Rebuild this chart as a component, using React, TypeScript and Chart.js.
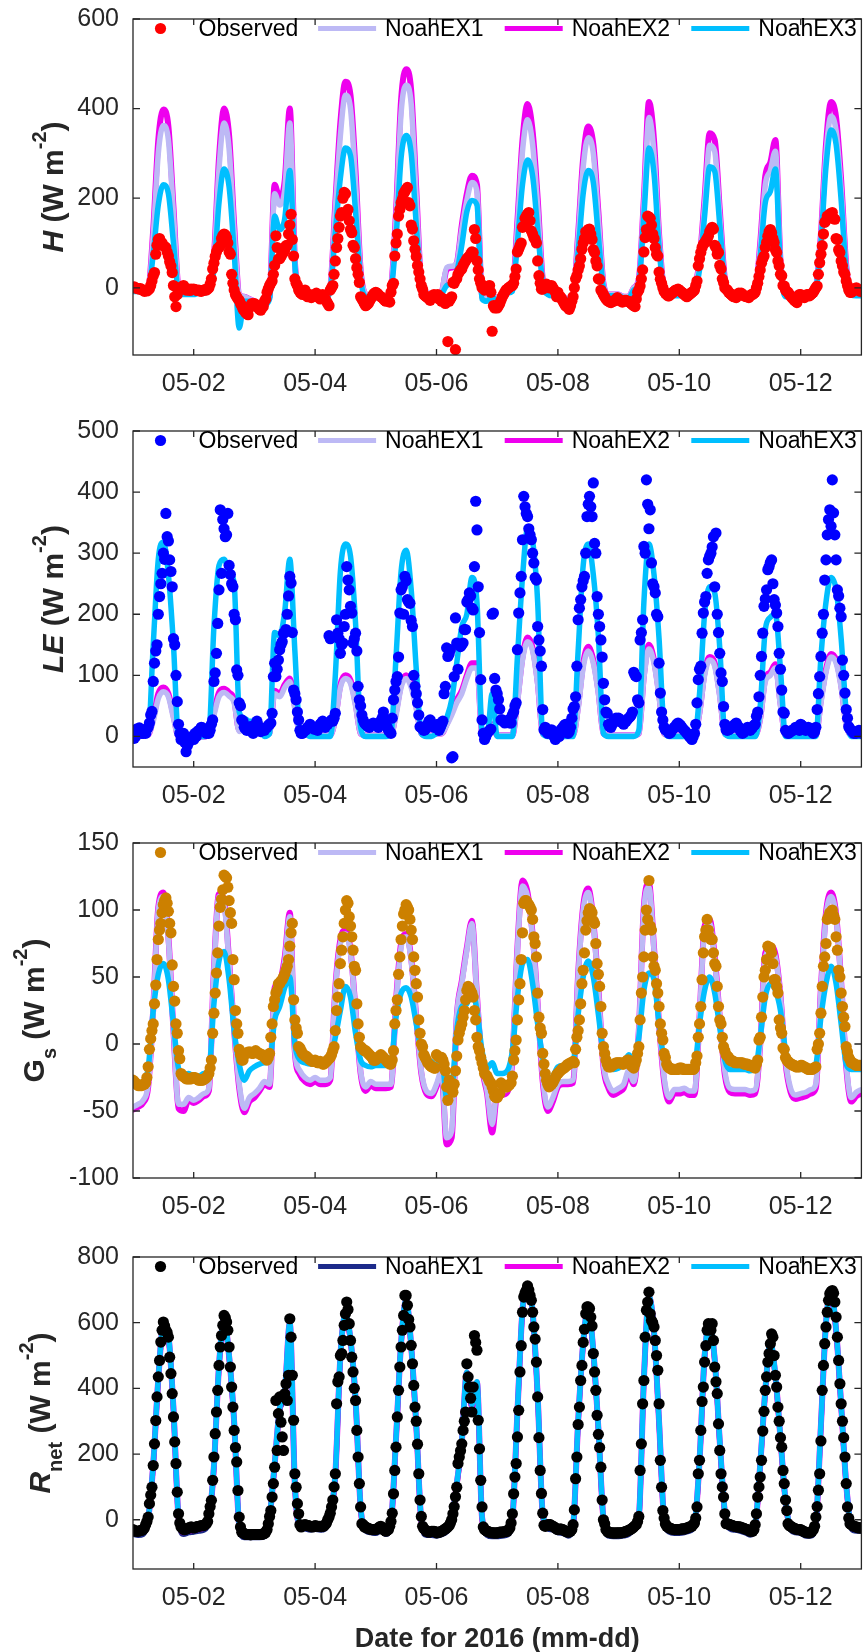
import React, { useEffect, useRef } from 'react';
import { Chart, registerables } from 'chart.js';
Chart.register(...registerables);

const FONT = '"Liberation Sans", Arial, Helvetica, sans-serif';

// ---------- axes / labels ----------
const X_TICKS = [1, 3, 5, 7, 9, 11];
const X_TICK_LABELS = ['05-02', '05-04', '05-06', '05-08', '05-10', '05-12'];
const SERIES_NAMES = ['Observed', 'NoahEX1', 'NoahEX2', 'NoahEX3'];
const X_TITLE = 'Date for 2016 (mm-dd)';
const H_TICKS = [0, 200, 400, 600];
const LE_TICKS = [0, 100, 200, 300, 400, 500];
const GS_TICKS = [-100, -50, 0, 50, 100, 150];
const RN_TICKS = [0, 200, 400, 600, 800];

// ---------- data: observed every 30 min from 05-01 00:00, models every 2 h ----------
const H_OBS = [
  0,2,0,-1,-2,-3,-2,-4,-5,-8,-6,-7,-5,-2,5,15,27,34,75,95,108,110,103,100,94,92,90,80,71,58,49,34,5,-20,-42,-15,-5,0,-2,3,5,-2,-5,-4,-3,-6,-3,-4,
  -3,-4,-5,-6,-5,-7,-8,-6,-5,-4,-5,-3,0,8,20,42,55,70,80,88,90,94,110,116,120,118,112,100,80,75,30,10,-5,-15,-20,-25,-28,-35,-40,-48,-50,-55,-58,-60,-45,-40,-35,-38,
  -35,-38,-40,-45,-48,-50,-45,-42,-30,-25,-10,-2,5,10,15,30,50,116,90,64,65,70,75,79,85,94,95,120,140,164,108,71,20,10,5,-5,-10,-12,-15,-10,-5,-15,-20,-18,-15,-22,-20,-18,
  -15,-12,-20,-22,-25,-18,-15,-20,-25,-30,-35,-40,-5,0,5,30,60,90,110,135,160,168,200,213,210,168,175,150,130,123,95,90,65,45,30,12,-20,-25,-30,-35,-40,-38,-35,-30,-25,-20,-15,-12,
  -10,-12,-15,-18,-20,-22,-25,-28,-30,-25,-30,-32,-10,5,10,71,100,120,160,175,190,198,210,215,220,224,190,183,140,131,105,86,70,50,35,20,5,-3,-15,-18,-20,-22,-25,-28,-20,-18,-15,-20,
  -20,-15,-25,-20,-30,-25,-25,-35,-30,-120,-30,-25,-20,12,10,-138,20,30,35,40,42,50,55,60,65,68,70,75,80,79,130,110,60,40,20,10,0,4,-5,0,-2,4,5,-10,-97,-40,-45,-40,
  -45,-40,-35,-28,-20,-15,-10,-5,-3,0,2,4,5,10,25,42,80,86,94,100,135,138,155,160,165,168,150,127,120,112,108,100,60,27,10,-3,-3,5,0,8,5,0,2,5,0,-5,-10,-20,
  -10,-18,-20,-25,-30,-35,-40,-42,-45,-48,-40,-30,-20,0,20,27,40,49,65,86,100,110,125,123,130,131,120,108,85,79,60,49,20,19,-5,-10,-15,-20,-25,-28,-30,-32,-33,-30,-30,-28,-25,-22,
  -25,-28,-30,-32,-30,-28,-28,-30,-30,-33,-35,-38,-40,-42,-25,-10,-5,4,20,40,80,112,130,160,158,155,140,120,110,90,75,71,35,19,10,0,-8,-12,-15,-18,-18,-15,-12,-10,-8,-5,-5,-3,
  -5,-8,-10,-12,-15,-18,-20,-17,-15,-12,-10,-8,-5,5,15,49,65,79,90,97,100,105,110,115,125,131,135,131,95,90,75,79,50,42,20,12,0,-3,-5,-10,-12,-15,-18,-20,-20,-22,-15,-12,
  -15,-12,-15,-18,-18,-20,-20,-22,-18,-15,-15,-12,-10,0,10,25,40,55,65,71,90,101,115,125,130,123,110,101,85,79,60,49,30,27,5,4,-5,-8,-10,-15,-18,-22,-25,-28,-30,-33,-20,-15,
  -15,-18,-20,-22,-18,-15,-15,-18,-15,-12,-10,-5,0,4,30,56,75,94,120,146,150,160,160,165,165,168,155,153,110,108,85,79,60,49,35,30,15,5,-5,-10,-10,-8,-5,-2,0,-4,-5,-8,
  -5,
];
const H_EX1 = [
  -5,-5,-8,-3,115,300,362,330,165,0,-10,-10,
  -10,-8,-8,0,60,265,368,310,125,-15,-20,-25,
  -30,-35,-35,-20,210,185,220,368,55,-10,-15,-15,
  -15,-20,-20,0,175,340,430,400,235,35,-15,-20,
  -20,-20,-20,0,155,390,452,410,200,8,-10,-15,
  -15,-10,45,48,55,130,195,235,215,-20,-25,-15,
  -25,-15,-10,-5,135,305,375,320,180,15,-10,-15,
  -15,-20,-25,-20,110,270,335,300,155,8,-15,-15,
  -15,-20,-20,0,18,185,380,300,110,-5,-15,-15,
  -15,-15,-15,0,55,185,318,305,160,15,-10,-15,
  -15,-15,-15,-10,90,230,262,305,55,-15,-15,-15,
  -15,-15,-15,0,110,300,383,350,220,45,-10,-15,
  -15,
];
const H_EX2 = [
  -5,-5,-8,-3,130,330,398,360,180,0,-10,-10,
  -10,-8,-8,0,70,290,400,340,140,-15,-20,-25,
  -30,-35,-35,-20,230,200,240,400,60,-10,-15,-15,
  -15,-20,-20,0,190,370,460,430,260,40,-15,-20,
  -20,-20,-20,0,170,420,488,440,220,10,-10,-15,
  -15,-10,40,45,55,140,210,250,230,-20,-25,-15,
  -25,-15,-10,-5,150,330,410,350,200,20,-10,-15,
  -15,-20,-25,-20,120,290,360,320,170,10,-15,-15,
  -15,-20,-20,0,20,200,415,330,120,-5,-15,-15,
  -15,-15,-15,0,60,200,345,330,175,20,-10,-15,
  -15,-15,-15,-10,100,250,280,330,60,-15,-15,-15,
  -15,-15,-15,0,120,320,415,380,240,50,-10,-15,
  -15,
];
const H_EX3 = [
  -8,-8,-10,-5,75,185,230,210,100,-10,-15,-15,
  -15,-12,-12,-5,40,190,265,225,80,-90,-30,-30,
  -35,-38,-38,-25,160,130,155,262,50,-15,-20,-20,
  -20,-22,-22,-5,125,245,312,295,170,20,-20,-22,
  -22,-22,-22,-5,110,290,340,300,140,5,-15,-18,
  -20,-15,5,10,35,95,170,195,185,-25,-30,-20,
  -30,-20,-12,-8,100,230,285,250,130,10,-15,-18,
  -18,-22,-28,-22,80,210,262,235,115,0,-18,-18,
  -18,-22,-22,-5,10,160,312,255,90,-10,-18,-18,
  -18,-18,-18,-5,40,160,270,260,140,10,-15,-18,
  -18,-18,-18,-12,70,190,215,265,45,-20,-18,-18,
  -18,-18,-18,-5,100,270,352,320,195,35,-15,-18,
  -18,
];

const LE_OBS = [
  10,-3,0,12,8,14,12,5,5,8,5,12,15,22,35,41,90,120,140,150,200,229,250,267,300,290,365,327,320,289,270,245,160,150,100,57,20,5,-5,0,5,-10,-25,-15,-10,-5,-5,0,
  -5,5,0,8,10,11,15,14,12,10,5,8,5,10,20,27,90,104,136,185,240,371,267,355,340,327,330,365,280,265,250,245,200,191,109,100,55,50,27,25,15,12,10,11,15,16,10,5,
  15,20,25,18,12,8,10,12,10,14,15,18,20,22,38,98,120,98,110,125,142,150,155,169,170,175,200,230,262,251,170,76,70,60,40,27,10,5,5,8,10,11,15,14,20,16,15,12,
  15,12,10,15,20,22,25,18,15,20,20,165,160,27,25,30,38,191,169,160,136,150,153,180,200,278,256,240,213,202,153,160,169,140,82,60,50,35,27,22,20,18,16,15,18,20,22,20,
  20,18,15,22,25,30,40,28,20,15,10,8,5,30,60,76,90,98,130,202,240,245,200,262,255,224,220,218,190,180,100,82,70,55,35,16,15,12,10,11,15,20,25,27,20,18,15,18,
  15,20,10,15,20,25,70,82,145,131,135,142,-35,-33,98,194,153,110,150,147,150,153,175,175,220,224,235,230,210,207,278,385,338,245,170,93,27,5,-5,0,5,8,10,12,200,202,95,76,
  70,60,45,27,27,25,22,24,25,27,22,22,35,40,50,55,142,202,235,262,322,393,376,365,360,340,330,322,300,284,260,256,180,158,140,115,44,11,15,8,5,8,10,11,5,0,-5,5,
  5,0,10,12,15,18,20,10,5,8,15,30,45,49,65,115,191,210,224,245,255,262,300,360,380,393,376,360,415,316,300,229,200,180,158,130,87,60,40,38,20,16,15,20,25,27,30,25,
  30,28,25,22,20,24,25,28,30,32,35,40,105,100,98,60,55,158,170,191,311,300,420,380,340,371,284,250,245,235,200,196,120,71,40,27,15,11,10,8,5,6,10,12,15,16,20,22,
  20,18,15,12,10,8,5,3,0,-2,-5,0,5,20,55,93,110,115,169,202,220,229,267,289,295,300,310,327,245,333,200,170,136,104,90,49,20,11,10,11,12,14,15,18,20,22,18,15,
  10,8,5,7,10,12,15,12,10,12,15,18,20,33,40,65,100,131,169,213,225,240,273,278,285,289,250,224,215,202,180,136,110,76,40,38,10,8,5,6,8,10,10,12,15,14,12,10,
  20,18,15,12,10,12,15,12,10,8,5,8,15,44,70,98,131,169,200,256,289,330,355,371,344,420,366,330,289,240,230,210,196,125,100,71,44,30,16,12,10,8,5,6,5,8,10,8,
  5,
];
const LE_EX1 = [
  3,3,2,3,25,62,73,65,30,0,0,0,
  0,0,0,3,35,65,72,66,55,8,12,12,
  12,8,3,5,70,65,80,90,45,5,3,2,
  2,2,2,2,28,80,95,87,50,5,2,2,
  2,2,2,3,35,80,95,80,45,5,2,2,
  5,5,18,35,55,70,95,112,112,5,0,18,
  2,2,2,2,55,125,155,140,85,5,2,2,
  2,2,2,2,45,113,140,120,70,5,2,2,
  2,2,2,2,5,95,143,120,65,5,2,2,
  2,2,2,2,38,100,125,115,65,5,2,2,
  2,2,2,2,28,90,100,112,50,2,2,2,
  2,2,2,2,55,105,130,120,80,18,2,2,
  2,
];
const LE_EX2 = [
  3,3,2,3,30,70,80,70,35,0,0,0,
  0,0,0,3,40,72,78,72,60,10,15,15,
  15,10,3,5,75,70,85,95,50,5,3,2,
  2,2,2,2,30,85,100,92,55,5,2,2,
  2,2,2,3,40,85,100,85,50,5,2,2,
  5,5,20,40,60,75,100,120,120,5,0,20,
  2,2,2,2,60,130,162,145,90,5,2,2,
  2,2,2,2,50,120,147,125,75,5,2,2,
  2,2,2,2,5,100,150,125,70,5,2,2,
  2,2,2,2,40,105,130,120,70,5,2,2,
  2,2,2,2,30,95,105,118,55,2,2,2,
  2,2,2,2,60,110,135,125,85,20,2,2,
  2,
];
const LE_EX3 = [
  5,5,3,5,150,290,318,265,150,0,0,0,
  0,0,0,5,180,280,290,270,250,40,30,25,
  25,15,0,5,170,165,205,290,140,10,5,0,
  0,0,0,0,100,270,315,295,185,15,0,0,
  0,0,0,5,130,270,305,240,110,5,0,0,
  5,10,30,60,120,180,200,260,220,10,0,70,
  0,0,0,0,130,260,340,320,220,5,0,0,
  0,0,0,0,140,280,315,265,165,5,0,0,
  0,0,0,0,10,220,315,265,160,15,0,0,
  0,0,0,0,70,200,245,235,145,5,0,0,
  0,0,0,0,50,175,195,200,110,0,0,0,
  0,0,0,0,130,220,260,240,160,40,0,0,
  0,
];

const GS_OBS = [
  -27,-28,-29,-30,-31,-31,-31,-31,-30,-30,-29,-25,-17,-4,4,10,15,30,44,63,78,85,90,98,104,107,109,105,99,90,83,59,43,32,15,8,-5,-11,-22,-24,-24,-25,-26,-26,-26,-26,-26,-25,
  -25,-25,-26,-26,-27,-27,-27,-27,-26,-26,-25,-24,-22,-18,-12,8,23,38,53,68,88,102,108,115,126,125,124,117,107,98,90,63,48,25,15,8,-4,-8,-12,-12,-8,-7,-7,-6,-6,-6,-7,-7,
  -6,-5,-6,-7,-7,-8,-8,-9,-10,-11,-12,-10,-7,5,15,28,33,38,40,45,45,47,48,50,52,55,58,63,73,83,90,33,18,12,8,-2,-3,-5,-7,-8,-9,-9,-10,-11,-12,-12,-13,-13,
  -12,-13,-14,-14,-13,-14,-15,-15,-14,-13,-12,-11,-10,-8,-5,-2,10,25,35,45,60,70,80,90,100,107,105,95,88,80,70,58,55,30,15,5,-2,-3,-4,-5,-5,-6,-7,-8,-9,-10,-12,-12,
  -12,-11,-10,-9,-8,-9,-10,-11,-12,-13,-14,-15,-15,-12,-5,15,25,33,52,65,78,88,97,100,104,102,100,93,85,78,65,55,45,35,18,8,0,-2,-8,-10,-12,-14,-15,-16,-17,-17,-18,-18,
  -8,-9,-10,-10,-10,-12,-15,-20,-32,-42,-27,-30,-34,-36,-30,-20,-9,3,8,12,15,20,25,33,40,43,42,40,38,35,25,18,5,-2,-5,-10,-14,-18,-22,-23,-24,-26,-28,-29,-32,-35,-39,-40,
  -40,-38,-37,-29,-30,-31,-32,-32,-32,-31,-30,-29,-24,-12,-5,3,18,33,45,63,83,105,107,107,105,104,102,100,93,80,75,65,38,20,12,8,-7,-15,-22,-27,-30,-32,-31,-30,-29,-27,-25,-23,
  -22,-21,-20,-19,-18,-18,-17,-16,-15,-15,-14,-14,-13,-14,-4,5,10,18,30,45,55,68,85,92,98,101,100,98,92,90,75,60,52,43,28,8,-2,-7,-12,-15,-17,-17,-17,-16,-15,-15,-14,-14,
  -14,-14,-14,-15,-15,-14,-13,-12,-12,-14,-16,-17,-18,-15,-12,-7,-2,18,38,50,65,85,100,93,122,88,85,65,58,55,45,38,28,15,8,3,-7,-10,-15,-17,-18,-18,-19,-19,-19,-19,-19,-19,
  -18,-18,-18,-19,-19,-19,-19,-19,-19,-19,-19,-19,-18,-14,-9,5,15,28,48,68,80,85,93,85,80,78,78,68,60,58,43,28,18,15,5,-2,-5,-8,-9,-10,-12,-12,-13,-13,-14,-14,-14,-14,
  -14,-14,-14,-15,-15,-15,-15,-16,-16,-16,-17,-17,-18,-15,-12,3,5,20,35,50,55,63,73,72,72,68,60,48,48,43,38,18,12,8,-3,-4,-10,-12,-13,-14,-15,-15,-16,-16,-17,-17,-17,-17,
  -16,-16,-17,-17,-18,-18,-19,-19,-19,-19,-18,-18,-17,-4,0,8,23,43,58,65,75,93,95,98,98,100,96,93,80,70,55,50,38,28,20,13,-2,-6,-10,-12,-14,-14,-15,-15,-16,-16,-16,-16,
  -16,
];
const GS_EX1 = [
  -47,-45,-42,-30,25,100,110,78,10,-45,-45,-40,
  -42,-40,-37,-33,55,110,105,60,10,-30,-48,-40,
  -37,-33,-28,-30,40,45,62,95,-5,-20,-25,-27,
  -25,-27,-27,-25,40,75,82,68,25,-20,-32,-28,
  -30,-30,-30,-30,30,72,80,62,20,-20,-35,-37,
  -30,-20,-70,-65,20,45,70,90,35,-15,-35,-60,
  -35,-35,-33,-10,70,118,110,80,30,-25,-47,-40,
  -30,-28,-28,-27,50,100,113,90,40,-15,-30,-35,
  -33,-30,-20,-28,10,100,117,70,15,-25,-40,-34,
  -34,-33,-35,-35,20,85,90,62,20,-20,-33,-34,
  -34,-34,-35,-34,0,65,70,65,35,-12,-33,-38,
  -37,-36,-34,-30,40,95,110,95,45,-15,-40,-36,
  -34,
];
const GS_EX2 = [
  -49,-47,-44,-32,26,102,113,80,10,-48,-50,-42,
  -44,-42,-39,-35,56,112,108,62,10,-33,-51,-43,
  -40,-35,-30,-32,42,47,65,98,-6,-23,-28,-30,
  -28,-30,-30,-27,42,78,85,70,25,-22,-35,-31,
  -33,-33,-33,-32,32,75,82,64,20,-22,-37,-39,
  -32,-22,-75,-70,20,47,72,92,36,-17,-37,-66,
  -38,-38,-36,-12,72,122,113,82,30,-28,-50,-43,
  -32,-30,-30,-29,52,103,116,92,42,-17,-33,-38,
  -36,-33,-22,-30,10,103,120,72,15,-28,-43,-37,
  -37,-36,-38,-38,20,88,93,65,20,-23,-36,-37,
  -37,-37,-38,-37,0,68,73,67,36,-14,-36,-41,
  -40,-39,-37,-33,42,98,113,97,46,-17,-43,-39,
  -37,
];
const GS_EX3 = [
  -30,-30,-28,-18,25,52,60,48,15,-18,-23,-22,
  -24,-24,-22,-20,30,62,69,48,10,-15,-27,-20,
  -17,-15,-14,-13,18,28,42,50,0,-12,-14,-15,
  -14,-15,-15,-12,5,25,43,35,8,-12,-16,-17,
  -16,-16,-16,-14,20,38,42,35,15,-5,-12,-13,
  -17,-8,-40,-35,10,28,30,40,25,-5,-18,-14,
  -22,-22,-20,-5,35,60,63,45,15,-10,-27,-24,
  -17,-16,-16,-14,22,50,62,50,22,-8,-18,-19,
  -18,-15,-8,-12,5,40,53,48,15,-12,-18,-19,
  -19,-19,-20,-18,15,40,50,38,12,-12,-19,-19,
  -19,-19,-20,-19,5,35,45,40,25,-5,-15,-17,
  -19,-18,-18,-15,20,45,58,45,15,-15,-19,-19,
  -19,
];

const RN_OBS = [
  -30,-32,-35,-35,-35,-34,-33,-32,-30,-25,-15,-5,8,49,75,99,165,231,302,374,435,485,541,577,602,590,577,570,556,495,445,384,313,237,171,84,18,-10,-22,-25,-30,-30,-28,-27,-25,-24,-22,-24,
  -25,-24,-22,-21,-20,-19,-18,-18,-18,-15,-12,-5,18,40,59,120,191,262,328,394,470,526,561,592,622,615,602,577,526,465,404,343,272,220,176,89,8,-22,-38,-40,-42,-44,-45,-45,-45,-46,-45,-45,
  -45,-45,-45,-45,-45,-45,-44,-43,-42,-38,-30,-12,10,28,69,110,160,363,211,323,374,297,252,211,384,414,363,440,612,556,440,303,140,99,49,18,-15,-22,-18,-16,-15,-16,-18,-18,-20,-21,-22,-20,
  -18,-19,-20,-20,-20,-21,-20,-19,-15,-10,0,8,20,39,60,100,140,353,420,435,500,506,546,592,627,663,640,597,546,495,450,400,363,272,191,110,39,-12,-15,-22,-22,-25,-26,-28,-29,-30,-30,-30,
  -30,-28,-25,-22,-20,-25,-30,-33,-35,-32,-30,-20,-5,20,79,150,221,313,394,465,526,577,622,683,683,653,610,587,531,475,409,343,300,230,140,60,10,-20,-27,-30,-35,-36,-38,-37,-35,-35,-35,-36,
  -40,-39,-38,-37,-35,-33,-30,-28,-25,-22,-18,-10,0,18,40,70,99,171,191,210,231,272,300,328,475,435,404,370,328,404,561,540,516,303,216,120,39,-22,-30,-32,-35,-36,-38,-39,-40,-40,-40,-41,
  -40,-39,-38,-38,-38,-37,-36,-36,-35,-30,-25,-10,18,79,130,171,252,333,450,530,632,678,690,698,712,700,683,668,632,587,550,480,374,250,150,80,20,-17,-20,-18,-15,-15,-15,-18,-20,-22,-25,-28,
  -30,-29,-28,-29,-30,-32,-35,-36,-38,-37,-35,-30,-15,30,125,191,290,343,424,470,540,580,627,648,648,643,617,590,506,450,394,318,260,220,160,60,0,-12,-30,-35,-38,-39,-40,-40,-40,-41,-40,-40,
  -40,-40,-40,-39,-38,-37,-35,-34,-32,-30,-28,-25,-22,-18,-15,-5,10,150,231,353,424,556,638,663,693,627,607,600,587,546,500,455,353,181,99,28,5,-12,-20,-22,-25,-26,-28,-29,-30,-30,-30,-30,
  -30,-29,-28,-28,-28,-27,-25,-24,-22,-21,-20,-15,-10,5,39,140,181,272,360,404,480,530,577,597,590,577,597,546,465,420,384,292,211,140,100,69,18,-12,-12,-14,-15,-16,-18,-19,-20,-21,-22,-22,
  -22,-24,-25,-26,-28,-29,-30,-32,-35,-35,-35,-30,-15,18,69,100,130,181,270,330,394,435,480,506,536,566,556,500,440,404,343,300,250,221,150,110,60,28,-12,-18,-20,-22,-25,-26,-28,-29,-30,-30,
  -30,-32,-35,-37,-38,-39,-40,-40,-38,-35,-30,-20,8,40,90,140,240,394,470,536,587,632,668,688,695,698,690,663,617,556,485,414,353,300,250,191,110,39,5,-12,-15,-18,-20,-21,-22,-24,-25,-25,
  -25,
];
const RN_EX1 = [
  -45,-48,-45,-2,160,420,580,550,330,0,-45,-40,
  -38,-35,-32,-2,155,460,600,490,290,-25,-55,-55,
  -55,-55,-52,2,160,330,380,590,100,-25,-28,-32,
  -30,-32,-28,12,130,490,615,540,360,30,-35,-40,
  -42,-35,-45,-15,240,530,660,520,280,-10,-48,-48,
  -50,-46,-38,-10,100,230,440,340,410,0,-48,-52,
  -52,-50,-47,-2,320,630,695,625,370,10,-28,-32,
  -40,-42,-50,-25,290,530,635,505,270,-5,-50,-52,
  -52,-50,-45,-32,0,420,670,565,290,-5,-38,-42,
  -42,-40,-35,-20,170,490,580,480,230,15,-28,-32,
  -35,-40,-47,-25,160,385,530,430,240,50,-32,-40,
  -42,-50,-50,-15,280,590,680,570,340,100,-28,-35,
  -35,
];
const RN_EX2 = [
  -38,-40,-37,3,168,428,588,558,338,8,-38,-33,
  -31,-28,-25,3,163,468,608,498,298,-18,-48,-48,
  -48,-48,-45,8,168,338,388,598,108,-18,-21,-25,
  -23,-25,-21,18,138,498,623,548,368,38,-28,-33,
  -35,-28,-38,-8,248,538,668,528,288,-3,-41,-41,
  -43,-39,-31,-3,108,238,448,348,418,8,-41,-45,
  -45,-43,-40,3,328,638,703,633,378,18,-21,-25,
  -33,-35,-43,-18,298,538,643,513,278,3,-43,-45,
  -45,-43,-38,-25,8,428,678,573,298,3,-31,-35,
  -35,-33,-28,-13,179,498,588,488,238,23,-21,-25,
  -28,-33,-40,-18,168,393,538,438,248,58,-25,-33,
  -35,-43,-43,-8,288,598,688,578,348,108,-21,-28,
  -28,
];
const RN_EX3 = [
  -35,-38,-35,5,170,430,590,560,340,10,-35,-30,
  -28,-25,-22,5,165,470,610,500,300,-15,-45,-45,
  -45,-45,-42,10,170,340,390,600,110,-15,-18,-22,
  -20,-22,-18,20,140,500,625,550,370,40,-25,-30,
  -32,-25,-35,-5,250,540,670,530,290,0,-38,-38,
  -40,-36,-28,0,110,240,450,350,420,10,-38,-42,
  -42,-40,-37,5,330,640,705,635,380,20,-18,-22,
  -30,-32,-40,-15,300,540,645,515,280,5,-40,-42,
  -42,-40,-35,-22,10,430,680,575,300,5,-28,-32,
  -32,-30,-25,-10,181,500,590,490,240,25,-18,-22,
  -25,-30,-37,-15,170,395,540,440,250,60,-22,-30,
  -32,-40,-40,-5,290,600,690,580,350,110,-18,-25,
  -25,
];

// ---------- panel layout / styles ----------
type Seg = { t: string; italic?: boolean; sub?: boolean; sup?: boolean };
const UNIT: Seg[] = [{ t: ' (W m' }, { t: '-2', sup: true }, { t: ')' }];

const PANELS = [
  { obs: H_OBS, ex1: H_EX1, ex2: H_EX2, ex3: H_EX3, yMin: -150, yMax: 600, yTicks: H_TICKS,
    obsColor: '#ff0000', ex1Color: '#bdb9f5', ex1Width: 5.5, ex1Order: 2, ex2Order: 3,
    title: [{ t: 'H', italic: true } as Seg, ...UNIT], titleX: 63,
    canvasTop: 0, canvasH: 400, plotTop: 19, plotBottom: 355, xTitle: false },
  { obs: LE_OBS, ex1: LE_EX1, ex2: LE_EX2, ex3: LE_EX3, yMin: -50, yMax: 500, yTicks: LE_TICKS,
    obsColor: '#0000ff', ex1Color: '#bdb9f5', ex1Width: 5.5, ex1Order: 2, ex2Order: 3,
    title: [{ t: 'LE', italic: true } as Seg, ...UNIT], titleX: 63,
    canvasTop: 400, canvasH: 420, plotTop: 431, plotBottom: 767, xTitle: false },
  { obs: GS_OBS, ex1: GS_EX1, ex2: GS_EX2, ex3: GS_EX3, yMin: -100, yMax: 150, yTicks: GS_TICKS,
    obsColor: '#cc8000', ex1Color: '#bdb9f5', ex1Width: 5.5, ex1Order: 2, ex2Order: 3,
    title: [{ t: 'G' } as Seg, { t: 's', sub: true }, ...UNIT], titleX: 44,
    canvasTop: 820, canvasH: 420, plotTop: 843, plotBottom: 1178, xTitle: false },
  { obs: RN_OBS, ex1: RN_EX1, ex2: RN_EX2, ex3: RN_EX3, yMin: -150, yMax: 800, yTicks: RN_TICKS,
    obsColor: '#000000', ex1Color: '#1c2a8a', ex1Width: 5, ex1Order: 3, ex2Order: 2,
    title: [{ t: 'R', italic: true } as Seg, { t: 'net', sub: true }, ...UNIT], titleX: 50,
    canvasTop: 1230, canvasH: 422, plotTop: 1257, plotBottom: 1569, xTitle: true },
];

const EX2_COLOR = '#ee00ee';
const EX3_COLOR = '#00bfff';
const AXIS_COLOR = '#262626';
const X_AXIS_H = 40;
const DOT_R = 5.6;

function drawRich(ctx: CanvasRenderingContext2D, segs: Seg[], baseX: number, centerY: number) {
  let total = 0;
  const parts = segs.map((s) => {
    const size = s.sub || s.sup ? 20 : 30;
    const font = `${s.italic ? 'italic ' : ''}bold ${size}px ${FONT}`;
    ctx.font = font;
    const w = ctx.measureText(s.t).width;
    total += w;
    return { ...s, font, w };
  });
  ctx.save();
  ctx.translate(baseX, centerY);
  ctx.rotate(-Math.PI / 2);
  ctx.fillStyle = AXIS_COLOR;
  ctx.textBaseline = 'alphabetic';
  ctx.textAlign = 'left';
  let x = -total / 2;
  for (const p of parts) {
    ctx.font = p.font;
    const dy = p.sup ? -17 : p.sub ? 12 : 0;
    ctx.fillText(p.t, x, dy);
    x += p.w;
  }
  ctx.restore();
}

function buildConfig(p: (typeof PANELS)[number]): any {
  const halfHourly = p.obs.map((v, i) => ({ x: i / 48, y: v }));
  const twoHourly = (arr: number[]) => arr.map((v, i) => ({ x: i / 12, y: v }));

  const decor = {
    id: 'decor',
    afterDatasetsDraw(chart: any) {
      const ctx: CanvasRenderingContext2D = chart.ctx;
      const { left, right, top, bottom } = chart.chartArea;
      ctx.save();
      ctx.strokeStyle = AXIS_COLOR;
      ctx.lineWidth = 1.3;
      ctx.strokeRect(left, top, right - left, bottom - top);
      ctx.beginPath();
      for (const t of chart.scales.y.ticks) {
        const y = chart.scales.y.getPixelForValue(t.value);
        ctx.moveTo(left, y); ctx.lineTo(left + 7, y);
        ctx.moveTo(right, y); ctx.lineTo(right - 7, y);
      }
      for (const t of chart.scales.x.ticks) {
        const x = chart.scales.x.getPixelForValue(t.value);
        ctx.moveTo(x, bottom); ctx.lineTo(x, bottom - 6);
        ctx.moveTo(x, top); ctx.lineTo(x, top + 6);
      }
      ctx.stroke();
      const col = (right - left + 18) / 4;
      chart.data.datasets.forEach((ds: any, i: number) => {
        const x0 = left - 1.5 + i * col;
        const yc = top + 9.5;
        if (i === 0) {
          ctx.fillStyle = ds.pointBackgroundColor;
          ctx.beginPath();
          ctx.arc(x0 + 29, yc, DOT_R, 0, Math.PI * 2);
          ctx.fill();
        } else {
          ctx.strokeStyle = ds.borderColor;
          ctx.lineWidth = 5;
          ctx.lineCap = 'butt';
          ctx.beginPath();
          ctx.moveTo(x0, yc); ctx.lineTo(x0 + 58, yc);
          ctx.stroke();
        }
        ctx.fillStyle = '#000';
        ctx.font = `23px ${FONT}`;
        ctx.textBaseline = 'middle';
        ctx.textAlign = 'left';
        ctx.fillText(ds.label, x0 + 67, top + 11);
      });
      ctx.restore();
    },
    afterDraw(chart: any) {
      const ctx: CanvasRenderingContext2D = chart.ctx;
      const { left, right, top, bottom } = chart.chartArea;
      drawRich(ctx, p.title, p.titleX, (top + bottom) / 2);
      if (p.xTitle) {
        ctx.save();
        ctx.fillStyle = AXIS_COLOR;
        ctx.font = `bold 27px ${FONT}`;
        ctx.textAlign = 'center';
        ctx.textBaseline = 'alphabetic';
        ctx.fillText(X_TITLE, (left + right) / 2, bottom + 78);
        ctx.restore();
      }
    },
  };

  const padTop = p.plotTop - p.canvasTop;
  const padBottom = p.canvasH - (p.plotBottom - p.canvasTop) - X_AXIS_H;

  return {
    type: 'line',
    data: {
      datasets: [
        { label: SERIES_NAMES[0], data: halfHourly, showLine: false, pointRadius: DOT_R,
          pointBackgroundColor: p.obsColor, pointBorderWidth: 0, borderColor: p.obsColor,
          backgroundColor: p.obsColor, order: 0 },
        { label: SERIES_NAMES[1], data: twoHourly(p.ex1), borderColor: p.ex1Color, borderWidth: p.ex1Width,
          pointRadius: 0, cubicInterpolationMode: 'monotone', order: p.ex1Order },
        { label: SERIES_NAMES[2], data: twoHourly(p.ex2), borderColor: EX2_COLOR, borderWidth: 6,
          pointRadius: 0, cubicInterpolationMode: 'monotone', order: p.ex2Order },
        { label: SERIES_NAMES[3], data: twoHourly(p.ex3), borderColor: EX3_COLOR, borderWidth: 5.5,
          pointRadius: 0, cubicInterpolationMode: 'monotone', order: 1 },
      ],
    },
    options: {
      animation: false,
      responsive: false,
      devicePixelRatio: 1,
      events: [],
      elements: { line: { borderJoinStyle: 'round', borderCapStyle: 'round', fill: false } },
      layout: { padding: { left: 0, right: 2, top: padTop, bottom: padBottom } },
      plugins: { legend: { display: false }, tooltip: { enabled: false }, title: { display: false } },
      scales: {
        x: {
          type: 'linear', min: 0, max: 12, position: 'bottom',
          grid: { display: false, drawTicks: false }, border: { display: false },
          afterBuildTicks: (s: any) => { s.ticks = X_TICKS.map((v) => ({ value: v })); },
          afterFit: (s: any) => { s.height = X_AXIS_H; s.paddingLeft = 0; s.paddingRight = 0; },
          ticks: {
            autoSkip: false, maxRotation: 0, minRotation: 0, padding: 14, color: AXIS_COLOR,
            font: { family: FONT, size: 25 },
            callback: (v: any) => X_TICK_LABELS[X_TICKS.indexOf(Number(v))] ?? '',
          },
        },
        y: {
          type: 'linear', min: p.yMin, max: p.yMax, position: 'left',
          grid: { display: false, drawTicks: false }, border: { display: false },
          afterBuildTicks: (s: any) => { s.ticks = p.yTicks.map((v) => ({ value: v })); },
          afterFit: (s: any) => { s.width = 133; s.paddingTop = 0; s.paddingBottom = 0; },
          ticks: {
            autoSkip: false, padding: 14, color: AXIS_COLOR,
            font: { family: FONT, size: 25 },
            callback: (v: any) => String(v),
          },
        },
      },
    },
    plugins: [decor],
  };
}

function Panel({ p }: { p: (typeof PANELS)[number] }) {
  const ref = useRef<HTMLCanvasElement>(null);
  useEffect(() => {
    const chart = new Chart(ref.current as HTMLCanvasElement, buildConfig(p));
    return () => chart.destroy();
  }, [p]);
  return (
    <canvas
      ref={ref}
      width={867}
      height={p.canvasH}
      style={{ position: 'absolute', left: 0, top: p.canvasTop, width: 867, height: p.canvasH, display: 'block' }}
    />
  );
}

export default function App() {
  return (
    <div style={{ position: 'absolute', left: 0, top: 0, width: 867, height: 1652, background: '#ffffff', overflow: 'hidden' }}>
      {PANELS.map((p, i) => (
        <Panel key={i} p={p} />
      ))}
    </div>
  );
}
